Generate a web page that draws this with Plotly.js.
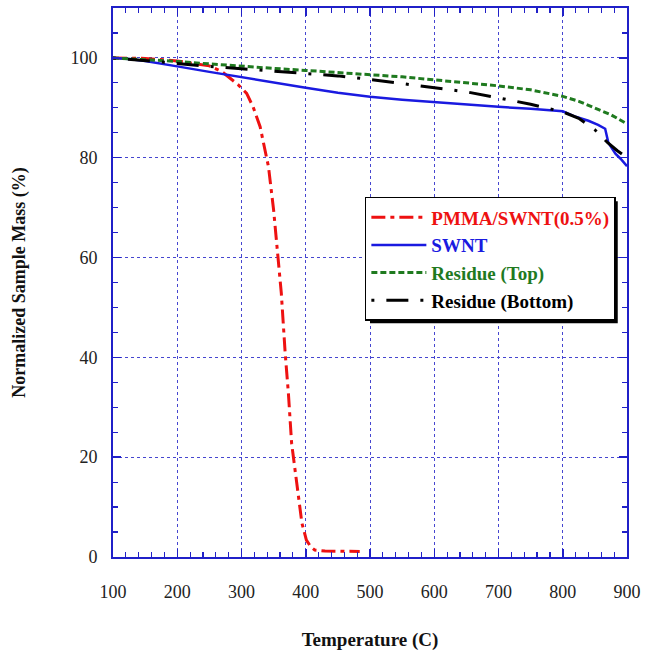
<!DOCTYPE html>
<html>
<head>
<meta charset="utf-8">
<script src="https://cdn.plot.ly/plotly-3.0.1.min.js"></script>
<style>
html,body{margin:0;padding:0;background:#fff;}
#chart{width:645px;height:653px;}
</style>
</head>
<body>
<div id="chart"></div>
<script>
// ---- Data ----
const pmmaT = [100,150,200,250,270,282,295,308,318,329,336,342,350,357,362,368,373,378,386,394,401,408,414,430,484];
const pmmaM = [100,99.9,99.4,98.4,97.2,96.0,94.6,92.9,90.2,86.2,82.0,78.2,69.5,60.2,52.8,40.8,32.8,22.8,14.8,6.8,3.4,2.0,1.4,1.2,1.1];

const swntT = [100,125,150,175,200,250,300,350,400,450,500,550,600,650,700,750,800,820,840,855,866,871,876,882,890,900];
const swntM = [100,99.8,99.4,98.9,98.3,97.2,96.1,95.0,94.0,93.0,92.2,91.6,91.1,90.6,90.2,89.8,89.3,88.2,87.4,86.6,85.8,83.0,82.0,80.8,79.8,78.3];

const topT = [100,150,200,250,300,350,400,450,500,550,600,650,700,750,800,825,850,875,900];
const topM = [100,99.7,99.3,98.8,98.3,97.9,97.5,97.1,96.7,96.2,95.6,95.0,94.4,93.6,92.3,91.3,90.0,88.6,86.8];

const botT = [100,150,200,250,300,350,400,450,500,550,600,650,700,750,800,825,850,870,885,900];
const botM = [100,99.5,98.9,98.3,97.8,97.3,96.9,96.4,95.7,94.9,94.1,93.2,92.0,90.7,89.2,87.9,85.6,83.0,81.4,80.0];

const seriesNames = ['PMMA/SWNT(0.5%)','SWNT','Residue (Top)','Residue (Bottom)'];
const seriesColors = ['#ee1111','#1a1ae0','#1f7a1f','#000000'];

const xTickVals = [100,200,300,400,500,600,700,800,900];
const yTickVals = [0,20,40,60,80,100];

// ---- Plot ----
const serif = 'Liberation Serif, Times New Roman, serif';
const axisBlue = '#2020c8';
const gridBlue = '#4646d0';

function legName(i){
  return '<span style="color:' + seriesColors[i] + '"><b>' + seriesNames[i] + '</b></span>';
}

const traces = [
  {x: pmmaT, y: pmmaM, name: legName(0), mode: 'lines',
   line: {color: seriesColors[0], width: 3, dash: '14px,5px,4px,5px'}},
  {x: swntT, y: swntM, name: legName(1), mode: 'lines',
   line: {color: seriesColors[1], width: 2.5}},
  {x: topT, y: topM, name: legName(2), mode: 'lines',
   line: {color: seriesColors[2], width: 3, dash: '6px,3px'}},
  {x: botT, y: botM, name: legName(3), mode: 'lines',
   line: {color: seriesColors[3], width: 3, dash: '3px,12px,22px,12px'}}
];

const layout = {
  width: 645, height: 653,
  margin: {l: 113, r: 18, t: 8, b: 96},
  paper_bgcolor: '#fff', plot_bgcolor: '#fff',
  showlegend: true,
  font: {family: serif, color: '#222'},
  xaxis: {
    range: [100, 900], tickvals: xTickVals, ticks: 'inside', ticklen: 8, tickwidth: 1.5,
    tickcolor: axisBlue, showline: true, linecolor: axisBlue, linewidth: 2, mirror: 'ticks',
    showgrid: true, gridcolor: gridBlue, griddash: 'dot', gridwidth: 1, zeroline: false,
    minor: {dtick: 20, tick0: 100, ticks: 'inside', ticklen: 5, tickwidth: 1.2, tickcolor: axisBlue, showgrid: false},
    tickfont: {family: serif, size: 18, color: '#222'},
    ticklabelstandoff: 17,
    title: {text: '<b>Temperature (C)</b>', font: {family: serif, size: 19, color: '#111'}, standoff: 32}
  },
  yaxis: {
    range: [0, 110], tickvals: yTickVals, ticks: 'inside', ticklen: 8, tickwidth: 1.5,
    tickcolor: axisBlue, showline: true, linecolor: axisBlue, linewidth: 2, mirror: 'ticks',
    showgrid: true, gridcolor: gridBlue, griddash: 'dot', gridwidth: 1, zeroline: false,
    minor: {dtick: 5, tick0: 0, ticks: 'inside', ticklen: 5, tickwidth: 1.2, tickcolor: axisBlue, showgrid: false},
    tickfont: {family: serif, size: 18, color: '#222'},
    ticklabelstandoff: 10,
    title: {text: '<b>Normalized Sample Mass (%)</b>', font: {family: serif, size: 18, color: '#111'}, standoff: 40}
  },
  legend: {
    x: 0.49, y: 0.656, xanchor: 'left', yanchor: 'top',
    bgcolor: '#ffffff', bordercolor: '#000', borderwidth: 1.5,
    font: {family: serif, size: 19},
    itemwidth: 55, traceorder: 'normal'
  },
  shapes: [
    {type: 'rect', xref: 'paper', yref: 'paper', layer: 'above',
     x0: 0.5, x1: 0.982, y0: 0.426, y1: 0.648,
     fillcolor: '#000', line: {width: 0}}
  ]
};

Plotly.newPlot('chart', traces, layout, {displayModeBar: false, staticPlot: true});
</script>
</body>
</html>
